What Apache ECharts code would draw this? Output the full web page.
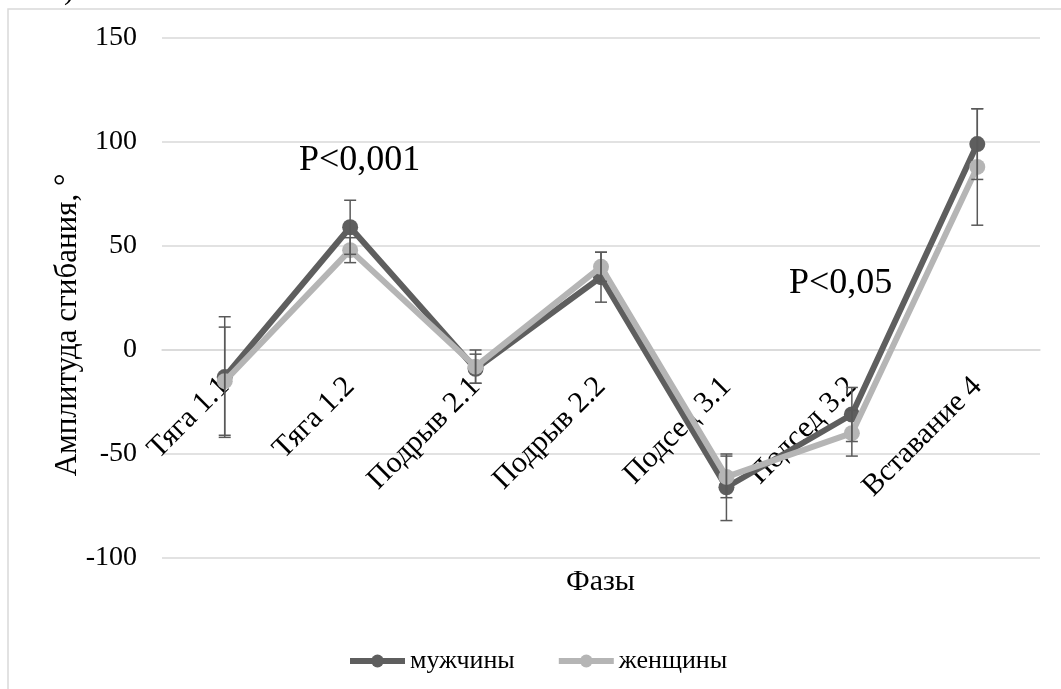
<!DOCTYPE html>
<html>
<head>
<meta charset="utf-8">
<script src="https://cdn.jsdelivr.net/npm/echarts@6/dist/echarts.min.js"></script>
<style>
html,body{margin:0;padding:0;background:#fff;}
#chart{width:1061px;height:689px;}
</style>
</head>
<body>
<div id="chart"></div>
<script>
const categories = ['Тяга 1.1', 'Тяга 1.2', 'Подрыв 2.1', 'Подрыв 2.2', 'Подсед 3.1', 'Подсед 3.2', 'Вставание 4'];
const male = [-13, 59, -9, 35, -66, -31, 99];
const maleErr = [29, 13, 7, 12, 16, 13, 17];
const female = [-15, 48, -8, 40, -61, -40, 88];
const femaleErr = [26, 6, 8, 7, 10, 11, 28];
const seriesNames = ['мужчины', 'женщины'];
const yMin = -100, yMax = 150, yStep = 50;
const annotations = ['P<0,001', 'P<0,05'];
const yAxisTitle = 'Амплитуда сгибания, °';
const xAxisTitle = 'Фазы';

const FONT = '"Liberation Serif", "DejaVu Serif", serif';
const DARK = '#5e5e5e';
const LIGHT = '#b5b5b5';

const GRID = { left: 162, right: 21, top: 38, bottom: 131 };
const plotH = 689 - GRID.top - GRID.bottom;
// distance from the grid bottom up to the zero line, in pixels
const zeroOffset = plotH * (0 - yMin) / (yMax - yMin);

function errData(vals, errs) {
  return vals.map((v, i) => [i, v - errs[i], v + errs[i]]);
}
function renderErr(params, api) {
  const lo = api.coord([api.value(0), api.value(1)]);
  const hi = api.coord([api.value(0), api.value(2)]);
  const w = 6;
  const style = { stroke: '#595959', lineWidth: 1.5 };
  return {
    type: 'group',
    children: [
      { type: 'line', shape: { x1: lo[0], y1: lo[1], x2: hi[0], y2: hi[1] }, style },
      { type: 'line', shape: { x1: lo[0] - w, y1: lo[1], x2: lo[0] + w, y2: lo[1] }, style },
      { type: 'line', shape: { x1: hi[0] - w, y1: hi[1], x2: hi[0] + w, y2: hi[1] }, style }
    ]
  };
}

const chart = echarts.init(document.getElementById('chart'), null, { renderer: 'canvas' });
chart.setOption({
  backgroundColor: '#fff',
  animation: false,
  grid: Object.assign({ containLabel: false, outerBoundsMode: 'none' }, GRID),
  legend: {
    data: seriesNames,
    left: 342,
    top: 643,
    itemWidth: 55,
    itemHeight: 16,
    itemGap: 41,
    lineStyle: { width: 6 },
    textStyle: { fontFamily: FONT, fontSize: 26, color: '#000' }
  },
  xAxis: {
    type: 'category',
    data: categories,
    boundaryGap: true,
    position: 'bottom',
    offset: -zeroOffset,
    axisLine: { show: true, onZero: false, lineStyle: { color: '#d9d9d9', width: 1.5 } },
    axisTick: { show: false },
    axisLabel: { rotate: 45, margin: 32, fontFamily: FONT, fontSize: 30, color: '#000', interval: 0 },
    splitLine: { show: false }
  },
  yAxis: {
    type: 'value',
    min: yMin, max: yMax, interval: yStep,
    axisLine: { show: false },
    axisTick: { show: false },
    axisLabel: { margin: 25, fontFamily: FONT, fontSize: 28, color: '#000' },
    splitLine: { lineStyle: { color: '#d9d9d9', width: 1.5 } }
  },
  graphic: [
    { type: 'rect', shape: { x: 8, y: 9, width: 1100, height: 720 }, style: { fill: 'none', stroke: '#d9d9d9', lineWidth: 1.5 }, silent: true, z: -10 },
    { type: 'text', left: 64, top: -24, style: { text: ')', font: '30px ' + FONT, fill: '#000' } },
    { type: 'text', x: 68, y: 325, rotation: Math.PI / 2, style: { text: yAxisTitle, font: '31px ' + FONT, fill: '#000', align: 'center', verticalAlign: 'middle' } },
    { type: 'text', left: 299, top: 143, style: { text: annotations[0], font: '36px ' + FONT, fill: '#000' } },
    { type: 'text', left: 789, top: 266, style: { text: annotations[1], font: '36px ' + FONT, fill: '#000' } },
    { type: 'text', left: 566, top: 567, style: { text: xAxisTitle, font: '30px ' + FONT, fill: '#000' } }
  ],
  series: [
    {
      name: seriesNames[0], type: 'line', data: male,
      symbol: 'circle', symbolSize: 16,
      lineStyle: { color: DARK, width: 6 },
      itemStyle: { color: DARK },
      z: 2
    },
    {
      name: seriesNames[1], type: 'line', data: female,
      symbol: 'circle', symbolSize: 16,
      lineStyle: { color: LIGHT, width: 6 },
      itemStyle: { color: LIGHT },
      z: 3
    },
    { type: 'custom', name: 'errM', renderItem: renderErr, data: errData(male, maleErr), z: 5, encode: { x: 0, y: [1, 2] } },
    { type: 'custom', name: 'errF', renderItem: renderErr, data: errData(female, femaleErr), z: 5, encode: { x: 0, y: [1, 2] } }
  ]
});
</script>
</body>
</html>
